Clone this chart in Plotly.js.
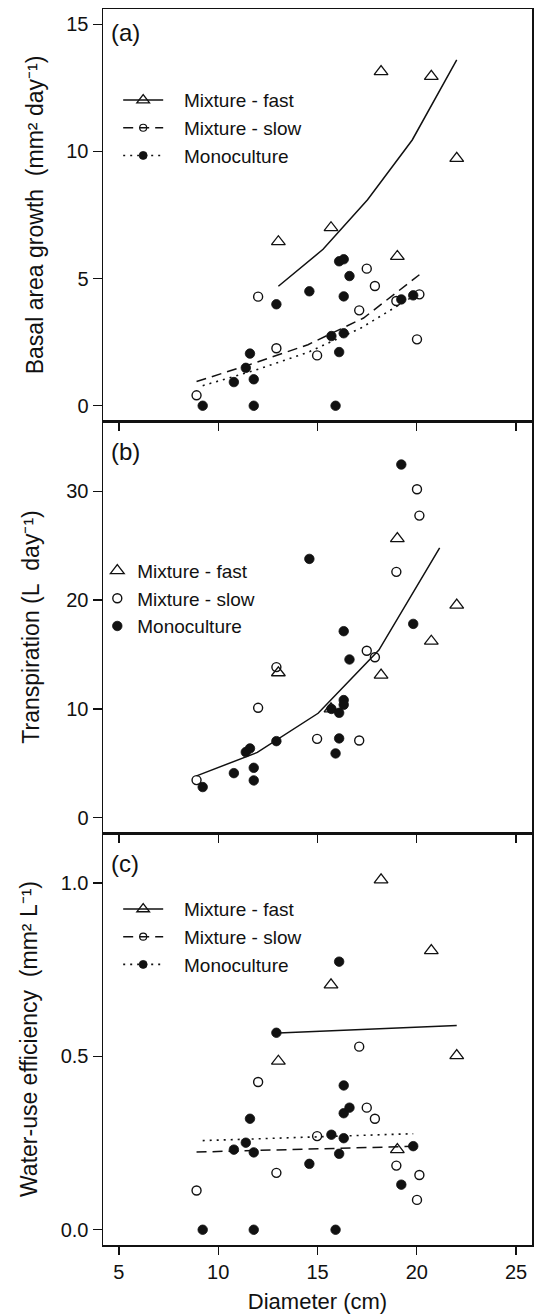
<!DOCTYPE html>
<html>
<head>
<meta charset="utf-8">
<script src="https://cdn.plot.ly/plotly-3.0.1.min.js"></script>
<style>html,body{margin:0;padding:0;background:#fff}</style>
</head>
<body>
<div id="chart" style="width:535px;height:1314px"></div>
<script>
// ---------- DATA ----------
// Tree diameters (cm)
const fastD = [13.03, 15.68, 18.20, 19.02, 20.73, 22.01];
const slowD = [8.91, 12.01, 12.93, 14.98, 17.10, 17.48, 17.89, 18.97, 20.01, 20.13];
const monoD = [9.22, 11.79, 15.91, 10.79, 11.39, 11.60, 11.79, 12.93, 14.59, 15.70,
               16.09, 16.32, 16.32, 16.09, 16.32, 16.61, 19.22, 19.82];

// (a) Basal area growth (mm2 day-1)
const fastBAG = [6.45, 7.00, 13.14, 5.87, 12.95, 9.73];
const slowBAG = [0.41, 4.29, 2.26, 1.98, 3.75, 5.39, 4.71, 4.12, 2.61, 4.38];
const monoBAG = [0, 0, 0, 0.93, 1.49, 2.05, 1.04, 3.99, 4.50, 2.74,
                 2.11, 2.85, 4.30, 5.68, 5.76, 5.10, 4.18, 4.34];

// (b) Transpiration (L day-1)
const fastT = [13.32, 10.01, 13.10, 25.65, 16.22, 19.53];
const slowT = [3.46, 10.10, 13.84, 7.25, 7.10, 15.34, 14.75, 22.59, 30.18, 27.76];
const monoT = [2.82, 3.43, 5.91, 4.10, 6.03, 6.37, 4.59, 7.04, 23.78, 10.00,
               9.64, 10.81, 10.38, 7.29, 17.14, 14.54, 32.45, 17.81];

// (c) Water-use efficiency (mm2 L-1)
const fastWUE = [0.486, 0.706, 1.009, 0.231, 0.805, 0.502];
const slowWUE = [0.113, 0.426, 0.164, 0.270, 0.528, 0.352, 0.320, 0.185, 0.086, 0.158];
const monoWUE = [0, 0, 0, 0.231, 0.251, 0.320, 0.223, 0.568, 0.190, 0.274,
                 0.219, 0.264, 0.416, 0.773, 0.336, 0.352, 0.130, 0.241];

// Fitted curves
const fitA_fastX = [13.03, 15.28, 17.52, 19.77, 22.01];
const fitA_fastY = [4.70, 6.15, 8.10, 10.45, 13.60];
const fitA_slowX = [8.91, 11.71, 14.52, 17.32, 20.13];
const fitA_slowY = [0.95, 1.65, 2.40, 3.45, 5.15];
const fitA_monoX = [9.22, 11.87, 14.52, 17.17, 19.82];
const fitA_monoY = [0.79, 1.40, 2.10, 3.05, 4.30];

const fitB_allX = [8.91, 11.97, 15.03, 18.09, 21.15];
const fitB_allY = [3.85, 6.00, 9.60, 15.40, 24.80];

const fitC_fastX = [13.03, 22.01];
const fitC_fastY = [0.567, 0.589];
const fitC_slowX = [8.91, 20.13];
const fitC_slowY = [0.224, 0.241];
const fitC_monoX = [9.22, 19.82];
const fitC_monoY = [0.257, 0.277];

const groupNames = ['Mixture - fast', 'Mixture - slow', 'Monoculture'];
const panelLabels = ['(a)', '(b)', '(c)'];
const yTitles = [
  'Basal area growth\u00a0\u00a0(mm\u00b2 day\u207b\u00b9)\u00a0\u00a0\u00a0\u00a0\u00a0',
  'Transpiration (L\u00a0\u00a0day\u207b\u00b9)',
  'Water-use efficiency\u00a0\u00a0(mm\u00b2 L\u207b\u00b9)'
];
const xTitle = 'Diameter (cm)';
const xTicks = [5, 10, 15, 20, 25];
const yTicksA = [0, 5, 10, 15];
const yTicksB = [0, 10, 20, 30];
const yTicksC = [0, 0.5, 1];

// ---------- STYLE ----------
const FONT = 'Liberation Sans, Arial, Helvetica, sans-serif';
const INK = '#111111';
const PAD = '\u00a0\u00a0\u00a0'; // gap between legend key and its label

const mFast = {symbol: 'triangle-up-open', size: 12, color: INK, line: {width: 1.3, color: INK}};
const mSlow = {symbol: 'circle-open', size: 9, color: INK, line: {width: 1.4, color: INK}};
const mMono = {symbol: 'circle', size: 9.5, color: INK, line: {width: 0.8, color: INK}};
const lFast = {color: INK, width: 1.5, dash: 'solid'};
const lSlow = {color: INK, width: 1.5, dash: '10px,6px'};
const lMono = {color: INK, width: 1.6, dash: '2px,5px'};

function pts(x, y, xa, ya, marker, name, legend, showlegend) {
  return {type: 'scatter', mode: 'markers', x: x, y: y, xaxis: xa, yaxis: ya,
          marker: marker, name: name, legend: legend, showlegend: showlegend, hoverinfo: 'x+y'};
}
function fit(x, y, xa, ya, line) {
  return {type: 'scatter', mode: 'lines', x: x, y: y, xaxis: xa, yaxis: ya,
          line: line, showlegend: false, hoverinfo: 'skip'};
}
function key(xa, ya, line, marker, name, legend) {
  return {type: 'scatter', mode: 'lines+markers', x: [null], y: [null], xaxis: xa, yaxis: ya,
          line: line, marker: marker, name: PAD + name, legend: legend, showlegend: true, hoverinfo: 'skip'};
}
const kFast = Object.assign({}, mFast, {size: 11});
const kSlow = Object.assign({}, mSlow, {size: 7, line: {width: 1.2, color: INK}});
const kMono = Object.assign({}, mMono, {size: 8});

const traces = [
  // panel a
  pts(fastD, fastBAG, 'x', 'y', mFast, groupNames[0], 'legend', false),
  pts(slowD, slowBAG, 'x', 'y', mSlow, groupNames[1], 'legend', false),
  pts(monoD, monoBAG, 'x', 'y', mMono, groupNames[2], 'legend', false),
  fit(fitA_fastX, fitA_fastY, 'x', 'y', lFast),
  fit(fitA_slowX, fitA_slowY, 'x', 'y', lSlow),
  fit(fitA_monoX, fitA_monoY, 'x', 'y', lMono),
  key('x', 'y', lFast, kFast, groupNames[0], 'legend'),
  key('x', 'y', lSlow, kSlow, groupNames[1], 'legend'),
  key('x', 'y', lMono, kMono, groupNames[2], 'legend'),
  // panel b
  pts(fastD, fastT, 'x2', 'y2', mFast, groupNames[0], 'legend2', true),
  pts(slowD, slowT, 'x2', 'y2', mSlow, groupNames[1], 'legend2', true),
  pts(monoD, monoT, 'x2', 'y2', mMono, groupNames[2], 'legend2', true),
  fit(fitB_allX, fitB_allY, 'x2', 'y2', lFast),
  // panel c
  pts(fastD, fastWUE, 'x3', 'y3', mFast, groupNames[0], 'legend3', false),
  pts(slowD, slowWUE, 'x3', 'y3', mSlow, groupNames[1], 'legend3', false),
  pts(monoD, monoWUE, 'x3', 'y3', mMono, groupNames[2], 'legend3', false),
  fit(fitC_fastX, fitC_fastY, 'x3', 'y3', lFast),
  fit(fitC_slowX, fitC_slowY, 'x3', 'y3', lSlow),
  fit(fitC_monoX, fitC_monoY, 'x3', 'y3', lMono),
  key('x3', 'y3', lFast, kFast, groupNames[0], 'legend3'),
  key('x3', 'y3', lSlow, kSlow, groupNames[1], 'legend3'),
  key('x3', 'y3', lMono, kMono, groupNames[2], 'legend3')
];

const tickFont = {family: FONT, size: 20, color: INK};
function xAxis(anchor, labels) {
  return {anchor: anchor, range: [4.2, 25.8], tickvals: xTicks, showticklabels: labels,
          ticks: 'outside', ticklen: 8, tickwidth: 1.3, tickcolor: INK,
          showline: true, linewidth: 1.5, linecolor: INK, mirror: true,
          showgrid: false, zeroline: false, tickfont: tickFont, fixedrange: true};
}
function yAxis(anchor, domain, range, vals, title, standoff, fmt) {
  return {anchor: anchor, domain: domain, range: range, tickvals: vals, tickformat: fmt || '',
          ticks: 'outside', ticklen: 9, tickwidth: 1.3, tickcolor: INK,
          showline: true, linewidth: 1.5, linecolor: INK, mirror: true,
          showgrid: false, zeroline: false, tickfont: tickFont, fixedrange: true,
          title: {text: title, font: {family: FONT, size: 23, color: INK}, standoff: standoff}};
}
function legendAt(x, y, iw) {
  return {x: x, y: y, xanchor: 'left', yanchor: 'top', bgcolor: 'rgba(0,0,0,0)',
          borderwidth: 0, itemwidth: iw, tracegroupgap: 0,
          font: {family: FONT, size: 19, color: INK}};
}

const layout = {
  width: 535, height: 1314,
  margin: {l: 103, r: 3, t: 9, b: 69},
  paper_bgcolor: '#ffffff', plot_bgcolor: 'rgba(0,0,0,0)',
  font: {family: FONT, color: INK},
  showlegend: true,
  xaxis: xAxis('y', false),
  xaxis2: xAxis('y2', false),
  xaxis3: Object.assign(xAxis('y3', true), {title: {text: xTitle, font: {family: FONT, size: 22, color: INK}, standoff: 12}}),
  yaxis: yAxis('x', [2/3, 1], [-0.6, 15.6], yTicksA, yTitles[0], 16),
  yaxis2: yAxis('x2', [1/3, 2/3], [-1.4, 36.45], yTicksB, yTitles[1], 20),
  yaxis3: yAxis('x3', [0, 1/3], [-0.044, 1.144], yTicksC, yTitles[2], 16, '.1f'),
  legend: legendAt(0.0354, 0.9416, 40),
  legend2: legendAt(-0.0133, 0.5609, 30),
  legend3: legendAt(0.0354, 0.2871, 40),
  annotations: [
    {text: panelLabels[0], xref: 'x', yref: 'y', x: 4.5, y: 14.67, xanchor: 'left', yanchor: 'middle', showarrow: false, font: {family: FONT, size: 24, color: INK}},
    {text: panelLabels[1], xref: 'x2', yref: 'y2', x: 4.5, y: 33.67, xanchor: 'left', yanchor: 'middle', showarrow: false, font: {family: FONT, size: 24, color: INK}},
    {text: panelLabels[2], xref: 'x3', yref: 'y3', x: 4.5, y: 1.055, xanchor: 'left', yanchor: 'middle', showarrow: false, font: {family: FONT, size: 24, color: INK}}
  ]
};

Plotly.newPlot('chart', traces, layout, {displayModeBar: false, staticPlot: true});
</script>
</body>
</html>
